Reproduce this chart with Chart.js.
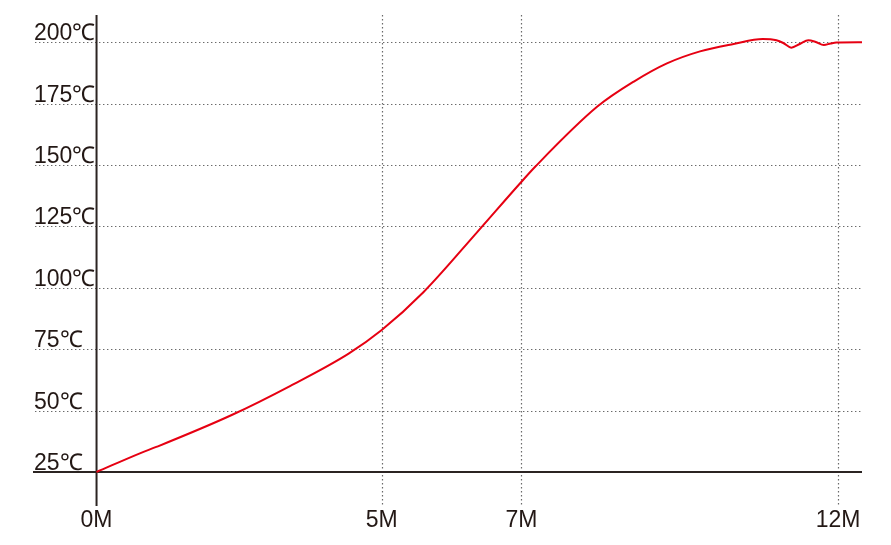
<!DOCTYPE html>
<html>
<head>
<meta charset="utf-8">
<script src="https://cdn.jsdelivr.net/npm/chart.js@4/dist/chart.umd.min.js"></script>
<style>
  html, body { margin: 0; padding: 0; background: #ffffff; }
  #wrap { width: 891px; height: 545px; position: relative; }
</style>
</head>
<body>
<div id="wrap"><canvas id="c"></canvas></div>
<script>
// X positions (axis units) and temperature values
const xValues = [0, 0.76, 1.06, 2.37, 3.40, 4.42, 5.00, 5.73, 6.67, 7.45, 7.69, 8.78, 9.42, 10.00, 10.58, 11.17, 11.68, 11.92, 12.04, 12.18, 12.33, 12.48, 12.61, 12.75, 12.87, 12.97, 13.42];
const tempValues = [25, 32.6, 35.3, 48.2, 60.1, 73.2, 82.8, 98.2, 122.6, 143.2, 149.3, 173.8, 184.0, 191.4, 196.3, 199.3, 201.3, 200.8, 199.7, 197.8, 199.3, 200.8, 200.1, 198.9, 199.5, 199.9, 200];
// Axis ticks
const xTickPositions = [0, 5, 7.45, 13.0];
const xTickLabels = ['0M', '5M', '7M', '12M'];
const yTickValues = [25, 50, 75, 100, 125, 150, 175, 200];
const yTickLabels = ['25℃', '50℃', '75℃', '100℃', '125℃', '150℃', '175℃', '200℃'];

const points = xValues.map((x, i) => ({ x: x, y: tempValues[i] }));

const axisPlugin = {
  id: 'axisPlugin',
  beforeDatasetsDraw(chart) {
    const ctx = chart.ctx;
    const xs = chart.scales.x, ys = chart.scales.y;
    const area = chart.chartArea;
    ctx.save();
    // dotted grid lines
    ctx.strokeStyle = '#6a6a6a';
    ctx.lineWidth = 1.2;
    ctx.setLineDash([1.4, 2.6]);
    yTickValues.forEach(v => {
      if (v === yTickValues[0]) return;
      const py = Math.round(ys.getPixelForValue(v)) + 0.5;
      ctx.beginPath();
      ctx.moveTo(area.left + 2, py);
      ctx.lineTo(area.right, py);
      ctx.stroke();
    });
    xTickPositions.forEach((v, i) => {
      if (i === 0) return;
      const px = Math.round(xs.getPixelForValue(v)) + 0.5;
      ctx.beginPath();
      ctx.moveTo(px, area.top);
      ctx.lineTo(px, area.bottom);
      ctx.stroke();
    });
    // solid axes
    ctx.setLineDash([]);
    ctx.strokeStyle = '#2b2422';
    ctx.lineWidth = 2;
    const y0 = ys.getPixelForValue(yTickValues[0]);
    ctx.beginPath();
    ctx.moveTo(area.left, y0);
    ctx.lineTo(area.right, y0);
    ctx.stroke();
    const x0 = xs.getPixelForValue(xTickPositions[0]);
    ctx.beginPath();
    ctx.moveTo(x0, area.top);
    ctx.lineTo(x0, area.bottom);
    ctx.stroke();
    ctx.restore();
  },
  afterDraw(chart) {
    const ctx = chart.ctx;
    const xs = chart.scales.x, ys = chart.scales.y;
    const area = chart.chartArea;
    ctx.save();
    ctx.fillStyle = '#231815';
    ctx.font = '23px "Liberation Sans", Arial, sans-serif';
    ctx.textBaseline = 'alphabetic';
    ctx.textAlign = 'left';
    yTickValues.forEach((v, i) => {
      const py = ys.getPixelForValue(v);
      ctx.fillText(yTickLabels[i], area.left + 1, py - 2);
    });
    ctx.textAlign = 'center';
    xTickPositions.forEach((v, i) => {
      const px = xs.getPixelForValue(v);
      ctx.fillText(xTickLabels[i], px, 527);
    });
    ctx.restore();
  }
};

new Chart(document.getElementById('c'), {
  type: 'line',
  data: {
    datasets: [{
      data: points,
      borderColor: '#e60012',
      borderWidth: 2,
      pointRadius: 0,
      fill: false,
      cubicInterpolationMode: 'monotone'
    }]
  },
  options: {
    responsive: true,
    maintainAspectRatio: false,
    animation: false,
    layout: { padding: { left: 33, top: 15, right: 29, bottom: 39 } },
    plugins: { legend: { display: false }, tooltip: { enabled: false } },
    scales: {
      x: { type: 'linear', min: -1.114, max: 13.42, display: false },
      y: { type: 'linear', min: 11.15, max: 211.1, display: false }
    }
  },
  plugins: [axisPlugin]
});
</script>
</body>
</html>
